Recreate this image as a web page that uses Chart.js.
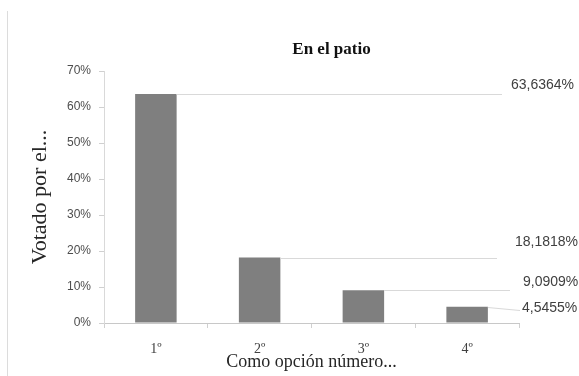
<!DOCTYPE html>
<html lang="es">
<head>
<meta charset="utf-8">
<title>En el patio</title>
<script src="https://cdn.jsdelivr.net/npm/chart.js@4/dist/chart.umd.min.js"></script>
<style>
  html, body { margin: 0; padding: 0; background: #ffffff; }
  #wrap { position: relative; width: 579px; height: 376px; }
</style>
</head>
<body>
<div id="wrap"><canvas id="chart"></canvas></div>
<script>
// Categories and values (percent of votes)
const categories = ['1º', '2º', '3º', '4º'];
const votePercent = [63.6364, 18.1818, 9.0909, 4.5455];

// Value axis range
const yMin = 0;
const yMax = 70;
const yStep = 10;

const chartTitle = 'En el patio';
const yAxisTitle = 'Votado por el...';
const xAxisTitle = 'Como opción número...';

// Where each value label sits, relative to the plot's right edge and the bar top
const labelPlacement = [
  { labelDx: -8, labelDy: -9,  lineEndDx: -17, lineEndDy: 0 },
  { labelDx: -4, labelDy: -15, lineEndDx: -22, lineEndDy: 0 },
  { labelDx: 4,  labelDy: -8,  lineEndDx: -9,  lineEndDy: 0 },
  { labelDx: 3,  labelDy: 2,   lineEndDx: 1,   lineEndDy: 3 }
];

const formatPercent = v => v.toFixed(4).replace('.', ',') + '%';

// Background, left frame edge and centred title
const frameAndTitle = {
  id: 'frameAndTitle',
  beforeDraw(chart) {
    const ctx = chart.ctx;
    ctx.save();
    ctx.fillStyle = '#ffffff';
    ctx.fillRect(0, 0, chart.width, chart.height);
    ctx.strokeStyle = '#dcdcdc';
    ctx.lineWidth = 1;
    ctx.beginPath();
    ctx.moveTo(7.5, 11);
    ctx.lineTo(7.5, chart.height);
    ctx.stroke();
    ctx.restore();
  },
  afterDraw(chart) {
    const ctx = chart.ctx;
    const area = chart.chartArea;
    ctx.save();
    ctx.font = 'bold 17px "Liberation Serif", "Times New Roman", serif';
    ctx.fillStyle = '#111111';
    ctx.textAlign = 'center';
    ctx.textBaseline = 'middle';
    ctx.fillText(chartTitle, (area.left + area.right) / 2 + 20, area.top - 21);
    ctx.restore();
  }
};

// Value labels pulled out to the right with thin leader lines
const leaderLabels = {
  id: 'leaderLabels',
  afterDatasetsDraw(chart) {
    const ctx = chart.ctx;
    const area = chart.chartArea;
    const meta = chart.getDatasetMeta(0);
    ctx.save();
    meta.data.forEach((bar, i) => {
      const p = labelPlacement[i];
      const props = bar.getProps(['x', 'y', 'width'], true);
      const startX = props.x + props.width / 2;
      const topY = props.y;
      ctx.strokeStyle = '#d9d9d9';
      ctx.lineWidth = 1;
      ctx.beginPath();
      ctx.moveTo(startX, Math.round(topY) + 0.5);
      ctx.lineTo(area.right + p.lineEndDx, Math.round(topY + p.lineEndDy) + 0.5);
      ctx.stroke();

      ctx.font = '14px "Liberation Sans", Arial, sans-serif';
      ctx.fillStyle = '#404040';
      ctx.textAlign = 'left';
      ctx.textBaseline = 'middle';
      ctx.fillText(formatPercent(votePercent[i]), area.right + p.labelDx, topY + p.labelDy);
    });
    ctx.restore();
  }
};

new Chart(document.getElementById('chart'), {
  type: 'bar',
  data: {
    labels: categories,
    datasets: [{
      data: votePercent,
      backgroundColor: '#7f7f7f',
      borderWidth: 0,
      barPercentage: 0.4,
      categoryPercentage: 1.0
    }]
  },
  options: {
    responsive: true,
    maintainAspectRatio: false,
    animation: false,
    layout: { padding: { left: 20, right: 60, top: 71, bottom: 0 } },
    plugins: {
      legend: { display: false },
      tooltip: { enabled: false },
      title: { display: false }
    },
    scales: {
      x: {
        offset: true,
        grid: { offset: true, drawOnChartArea: false, drawTicks: true, tickLength: 5, color: '#d0d0d0' },
        border: { display: true, color: '#c8c8c8' },
        ticks: {
          padding: 13,
          color: '#404040',
          font: { family: '"Liberation Serif", "Times New Roman", serif', size: 14 }
        },
        title: {
          display: true,
          text: xAxisTitle,
          color: '#262626',
          font: { family: '"Liberation Serif", "Times New Roman", serif', size: 18 },
          padding: { top: 3, bottom: 3 }
        },
        afterFit(scale) { scale.height = 53; }
      },
      y: {
        min: yMin,
        max: yMax,
        grid: { drawOnChartArea: false, drawTicks: true, tickLength: 5, color: '#d0d0d0' },
        border: { display: true, color: '#d9d9d9' },
        ticks: {
          stepSize: yStep,
          padding: 8,
          color: '#4d4d4d',
          font: { family: '"Liberation Sans", Arial, sans-serif', size: 12 },
          callback: v => v + '%'
        },
        title: {
          display: true,
          text: yAxisTitle,
          color: '#262626',
          font: { family: '"Liberation Serif", "Times New Roman", serif', size: 22 },
          padding: { top: 7, bottom: 0 }
        },
        afterFit(scale) { scale.width = 84; }
      }
    }
  },
  plugins: [frameAndTitle, leaderLabels]
});
</script>
</body>
</html>
